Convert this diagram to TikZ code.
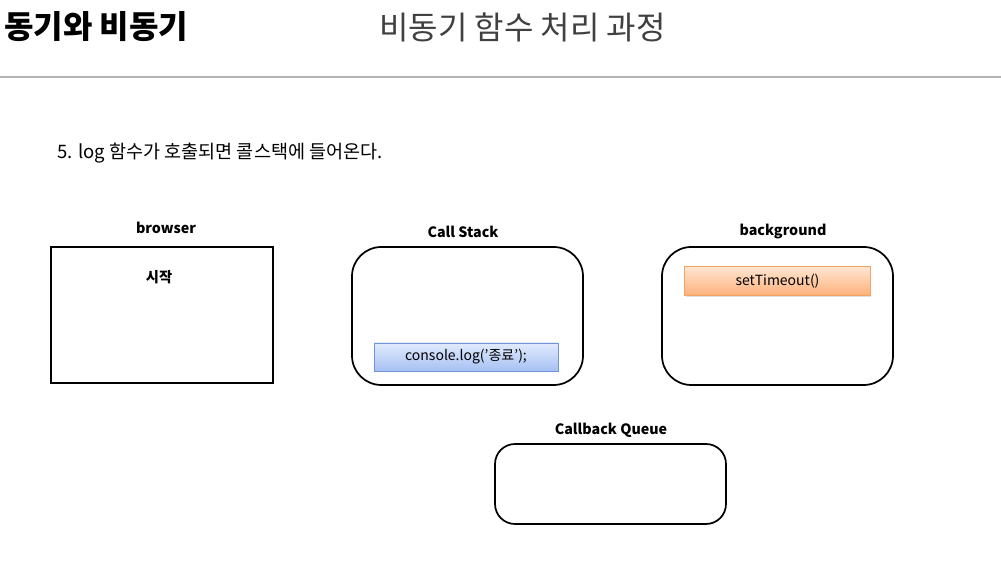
\documentclass[tikz,border=0pt]{standalone}
\usepackage{fontspec}
\setmainfont{Noto Sans CJK KR}
\usetikzlibrary{shadows}
\definecolor{titlegray}{HTML}{404040}
\definecolor{rulegray}{HTML}{B4B4B4}
\definecolor{bluetop}{HTML}{E2EBFD}
\definecolor{bluebot}{HTML}{A6C1F3}
\definecolor{blueborder}{HTML}{7394D2}
\definecolor{orangetop}{HTML}{FFE6D2}
\definecolor{orangebot}{HTML}{FDB07A}
\definecolor{orangeborder}{HTML}{F4A460}
\begin{document}
\begin{tikzpicture}[x=0.75pt,y=-0.75pt,
  lbl/.style={font=\fontsize{10.7pt}{13pt}\selectfont\bfseries, anchor=center},
  panel/.style={draw=black, line width=1.3pt, rounded corners=22pt},
  sqpanel/.style={draw=black, line width=1.1pt},
  bluebox/.style={draw=blueborder, line width=0.6pt, top color=bluetop, bottom color=bluebot, drop shadow={shadow xshift=0.8pt,shadow yshift=-0.8pt,opacity=0.25}, font=\fontsize{10.5pt}{12pt}\selectfont},
  orangebox/.style={draw=orangeborder, line width=0.6pt, top color=orangetop, bottom color=orangebot, drop shadow={shadow xshift=0.8pt,shadow yshift=-0.8pt,opacity=0.25}, font=\fontsize{10.5pt}{12pt}\selectfont}]
\useasboundingbox (0,0) rectangle (1001,573);
\fill[white] (0,0) rectangle (1001,573);
% titles
\node[anchor=west, inner sep=0pt, font=\fontsize{24pt}{28pt}\selectfont\bfseries] (title) at (4,27) {동기와 비동기};
\node[anchor=west, inner sep=0pt, text=titlegray, font=\fontsize{24pt}{28pt}\selectfont] (subtitle) at (379,27) {비동기 함수 처리 과정};
\draw[rulegray, line width=1.5pt] (0,77) -- (1001,77);
\node[anchor=west, inner sep=0pt, font=\fontsize{13.9pt}{16pt}\selectfont] (step) at (57,153) {5. log 함수가 호출되면 콜스택에 들어온다.};
% browser
\node[lbl] (browserlbl) at (166,228) {browser};
\draw[sqpanel] (51,247) rectangle (273,383);
\node[lbl] (start) at (159,277) {시작};
% call stack
\node[lbl] (cslbl) at (463,232) {Call Stack};
\draw[panel] (352,247) rectangle (583,385);
\node[bluebox, minimum width=138pt, minimum height=21pt, inner sep=0pt] (log) at (466,357) {console.log('종료');};
% background
\node[lbl] (bglbl) at (783,232) {background};
\draw[panel] (662,247) rectangle (893,385);
\node[orangebox, minimum width=139pt, minimum height=22pt, inner sep=0pt] (timeout) at (777.5,281) {setTimeout()};
% callback queue
\node[lbl] (cqlbl) at (611,430) {Callback Queue};
\draw[panel, rounded corners=15pt] (495,444) rectangle (726,524);
\end{tikzpicture}
\end{document}
